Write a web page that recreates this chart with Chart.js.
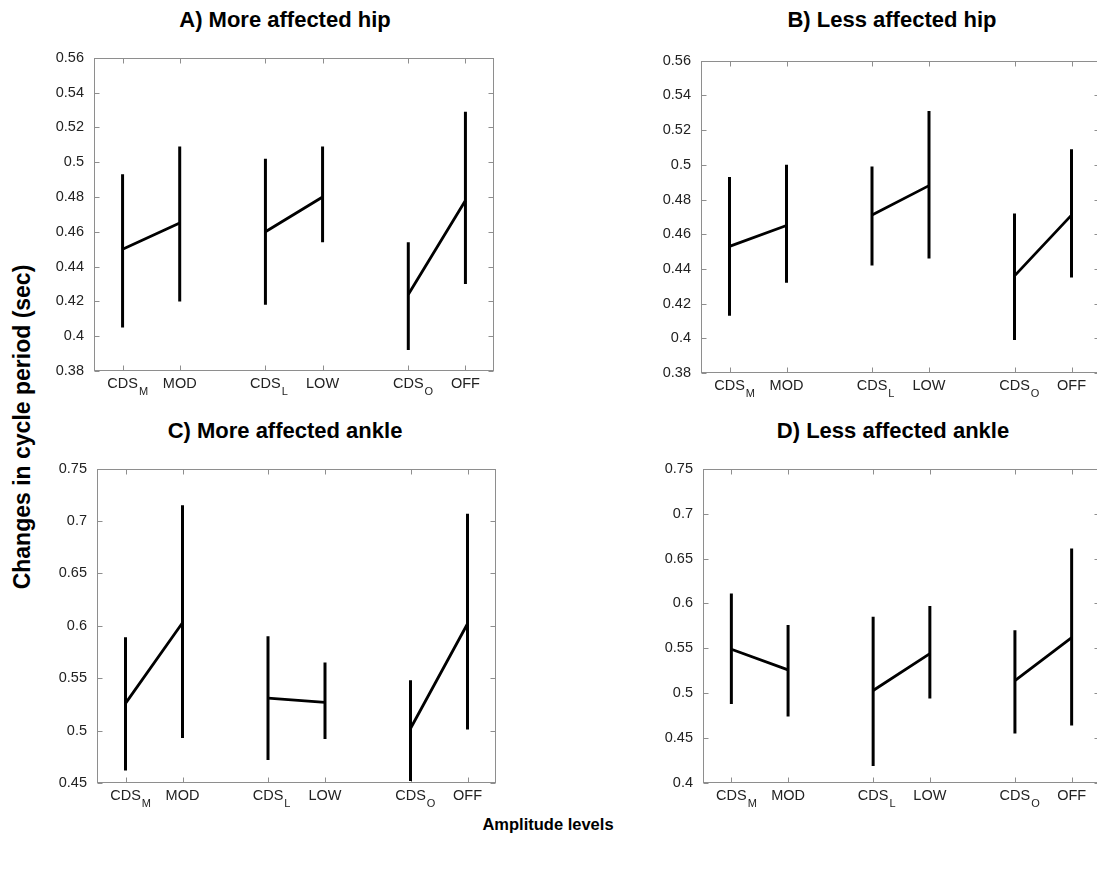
<!DOCTYPE html>
<html>
<head>
<meta charset="utf-8">
<script src="https://cdn.jsdelivr.net/npm/chart.js@4.4.1/dist/chart.umd.min.js"></script>
<style>
  html, body { margin: 0; padding: 0; background: #fff; }
  body { width: 1097px; height: 871px; position: relative; overflow: hidden; font-family: 'Liberation Sans', Arial, sans-serif; }
  canvas { position: absolute; }
  .title { position: absolute; font-weight: bold; font-size: 22px; line-height: 22px; color: #000; white-space: nowrap; transform: translateX(-50%); }
  #ylabel { position: absolute; left: 22px; top: 427px; font-weight: bold; font-size: 23px; line-height: 23px; white-space: nowrap; transform: translate(-50%, -50%) rotate(-90deg); }
  #xlabel { position: absolute; left: 548px; top: 816px; font-weight: bold; font-size: 16.5px; line-height: 17px; white-space: nowrap; transform: translateX(-50%); }
</style>
</head>
<body>
<div class="title" style="left:285px; top:9px;">A) More affected hip</div>
<div class="title" style="left:892px; top:9px;">B) Less affected hip</div>
<div class="title" style="left:285px; top:420px;">C) More affected ankle</div>
<div class="title" style="left:893px; top:420px;">D) Less affected ankle</div>
<div id="ylabel">Changes in cycle period (sec)</div>
<div id="xlabel">Amplitude levels</div>

<script>
// x categories (positions on a 0.5..7.5 axis) and their labels
const xPositions = [1, 2, 3.5, 4.5, 6, 7];
const xLabels = ['CDS', 'MOD', 'CDS', 'LOW', 'CDS', 'OFF'];
const xSubscripts = ['M', '', 'L', '', 'O', ''];

const hipTicks = [0.38, 0.4, 0.42, 0.44, 0.46, 0.48, 0.5, 0.52, 0.54, 0.56];
const ankleMoreTicks = [0.45, 0.5, 0.55, 0.6, 0.65, 0.7, 0.75];
const ankleLessTicks = [0.4, 0.45, 0.5, 0.55, 0.6, 0.65, 0.7, 0.75];

// A) more affected hip
const hipMoreMean = [0.450, 0.465, 0.460, 0.480, 0.424, 0.478];
const hipMoreLow = [0.405, 0.420, 0.418, 0.454, 0.392, 0.430];
const hipMoreHigh = [0.493, 0.509, 0.502, 0.509, 0.454, 0.529];

// B) less affected hip
const hipLessMean = [0.453, 0.465, 0.471, 0.488, 0.436, 0.471];
const hipLessLow = [0.413, 0.432, 0.442, 0.446, 0.399, 0.435];
const hipLessHigh = [0.493, 0.500, 0.499, 0.531, 0.472, 0.509];

// C) more affected ankle
const ankleMoreMean = [0.526, 0.603, 0.531, 0.527, 0.502, 0.602];
const ankleMoreLow = [0.462, 0.493, 0.472, 0.492, 0.452, 0.501];
const ankleMoreHigh = [0.589, 0.715, 0.590, 0.565, 0.548, 0.707];

// D) less affected ankle
const ankleLessMean = [0.549, 0.526, 0.503, 0.544, 0.514, 0.562];
const ankleLessLow = [0.488, 0.474, 0.419, 0.494, 0.455, 0.464];
const ankleLessHigh = [0.611, 0.576, 0.585, 0.597, 0.570, 0.661];

const FONT = "'Liberation Sans', Arial, sans-serif";
const AXIS_GRAY = '#8e8e8e';
const TICK_LEN = 5;

const panels = [
  { left: 54, top: 47, width: 450, height: 359, ticks: hipTicks, mean: hipMoreMean, low: hipMoreLow, high: hipMoreHigh },
  { left: 661, top: 50, width: 449, height: 358, ticks: hipTicks, mean: hipLessMean, low: hipLessLow, high: hipLessHigh },
  { left: 57, top: 458, width: 449, height: 360, ticks: ankleMoreTicks, mean: ankleMoreMean, low: ankleMoreLow, high: ankleMoreHigh },
  { left: 663, top: 458, width: 447, height: 360, ticks: ankleLessTicks, mean: ankleLessMean, low: ankleLessLow, high: ankleLessHigh },
];

// matlab-style box with inward ticks on all four sides, plus subscripted x labels
const frame = {
  id: 'frame',
  beforeDatasetsDraw(chart) {
    const { ctx, chartArea: a, scales: { x, y } } = chart;
    const L = Math.round(a.left) + 0.5;
    const R = Math.round(a.right) - 0.5;
    const T = Math.round(a.top) + 0.5;
    const B = Math.round(a.bottom) - 0.5;
    ctx.save();
    ctx.strokeStyle = AXIS_GRAY;
    ctx.lineWidth = 1;
    ctx.strokeRect(L, T, R - L, B - T);
    ctx.beginPath();
    y.ticks.forEach((t) => {
      const py = Math.round(y.getPixelForValue(t.value)) + 0.5;
      ctx.moveTo(L, py); ctx.lineTo(L + TICK_LEN, py);
      ctx.moveTo(R, py); ctx.lineTo(R - TICK_LEN, py);
    });
    xPositions.forEach((v) => {
      const px = Math.round(x.getPixelForValue(v)) + 0.5;
      ctx.moveTo(px, B); ctx.lineTo(px, B - TICK_LEN);
      ctx.moveTo(px, T); ctx.lineTo(px, T + TICK_LEN);
    });
    ctx.stroke();

    ctx.fillStyle = '#222';
    ctx.textBaseline = 'alphabetic';
    xLabels.forEach((lab, i) => {
      const px = x.getPixelForValue(xPositions[i]);
      ctx.font = `14.5px ${FONT}`;
      ctx.textAlign = 'center';
      ctx.fillText(lab, px, a.bottom + 17);
      if (xSubscripts[i]) {
        const w = ctx.measureText(lab).width;
        ctx.font = `11px ${FONT}`;
        ctx.textAlign = 'left';
        ctx.fillText(xSubscripts[i], px + w / 2 + 1, a.bottom + 24);
      }
    });
    ctx.restore();
  },
};

function meanData(p) {
  const out = [];
  for (let i = 0; i < xPositions.length; i += 2) {
    out.push({ x: xPositions[i], y: p.mean[i] });
    out.push({ x: xPositions[i + 1], y: p.mean[i + 1] });
    out.push({ x: xPositions[i + 1], y: null });
  }
  return out;
}

function barData(p) {
  return xPositions.flatMap((v, i) => [
    { x: v, y: p.low[i] },
    { x: v, y: p.high[i] },
    { x: v, y: null },
  ]);
}

panels.forEach((p) => {
  const canvas = document.createElement('canvas');
  canvas.width = p.width;
  canvas.height = p.height;
  canvas.style.left = `${p.left}px`;
  canvas.style.top = `${p.top}px`;
  document.body.appendChild(canvas);

  const lineStyle = { borderColor: '#000', borderWidth: 3, pointRadius: 0, tension: 0, spanGaps: false, borderCapStyle: 'butt' };

  new Chart(canvas, {
    type: 'line',
    data: {
      datasets: [
        { ...lineStyle, borderWidth: 2.8, data: meanData(p) },
        { ...lineStyle, data: barData(p) },
      ],
    },
    options: {
      responsive: false,
      animation: false,
      events: [],
      layout: { padding: { left: 0, top: 10, right: 10, bottom: 0 } },
      plugins: { legend: { display: false }, tooltip: { enabled: false } },
      scales: {
        x: {
          type: 'linear', min: 0.5, max: 7.5,
          ticks: { display: false },
          grid: { display: false },
          border: { display: false },
          afterFit(s) { s.height = 35; },
        },
        y: {
          min: p.ticks[0], max: p.ticks[p.ticks.length - 1],
          ticks: {
            font: { family: FONT, size: 14.5 },
            color: '#222',
            padding: 2,
            callback: (v) => String(Number(v.toFixed(2))),
          },
          grid: { display: false },
          border: { display: false },
          afterBuildTicks(s) { s.ticks = p.ticks.map((v) => ({ value: v })); },
          afterFit(s) { s.width = 40; },
        },
      },
    },
    plugins: [frame],
  });
});
</script>
</body>
</html>
